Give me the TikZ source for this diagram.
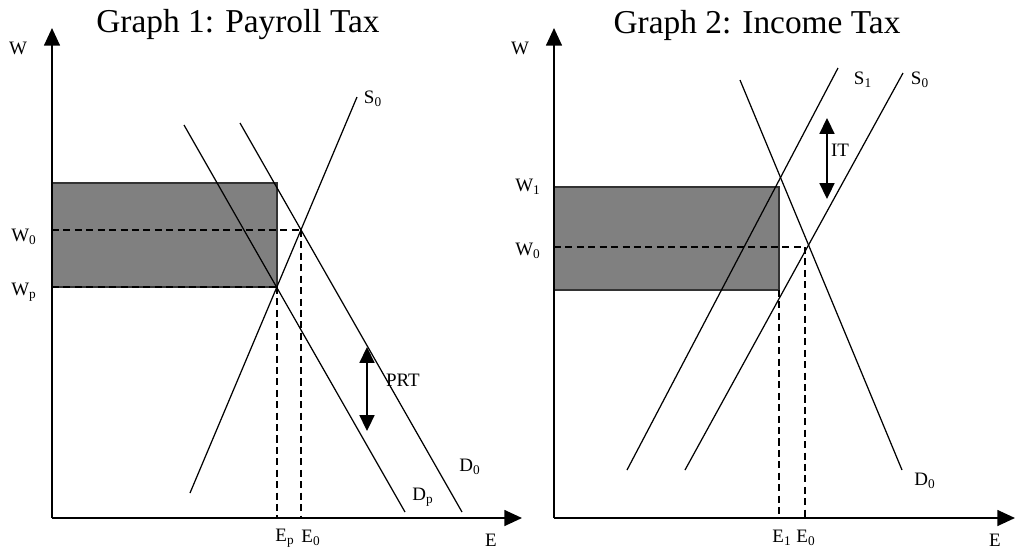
\documentclass[tikz,border=0pt]{standalone}
\usepackage{fontspec}
\setmainfont{Liberation Serif}
\usetikzlibrary{arrows.meta}
\definecolor{wedgeGray}{RGB}{128,128,128}

\begin{document}
\begin{tikzpicture}[
    x=0.02cm, y=-0.02cm,
    axis/.style={line width=1pt, -{Triangle[width=9pt,length=10pt]}},
    curve/.style={line width=0.7pt},
    guide/.style={line width=0.7pt, dash pattern=on 4pt off 2.5pt},
    taxarrow/.style={line width=1pt, {Triangle[width=8.5pt,length=9pt]}-{Triangle[width=8.5pt,length=9pt]}},
    wedge/.style={fill=wedgeGray, draw=black!80, line width=0.6pt},
    lbl/.style={font=\fontsize{10.8}{13}\selectfont, inner sep=0pt},
    title/.style={font=\fontsize{19}{22}\selectfont, inner sep=0pt}
]
    \useasboundingbox (0,0) rectangle (1015,549);

    % Graph 1: payroll tax
    \coordinate (o1) at (52,518);
    \coordinate (ytop1) at (52,28);
    \coordinate (xend1) at (522,518);
    \coordinate (eqp1) at (277,287);
    \coordinate (eq01) at (301,230);
    \coordinate (s0lo1) at (190,493);
    \coordinate (s0hi1) at (357,97);
    \coordinate (dphi1) at (184,125);
    \coordinate (dplo1) at (405,512);
    \coordinate (d0hi1) at (240,123);
    \coordinate (d0lo1) at (462,512);
    \coordinate (prttop) at (367,347);
    \coordinate (prtbot) at (367,431);

    \draw[wedge] (52,183) rectangle (eqp1);
    \draw[guide] (52,230) -- (eq01);
    \draw[guide] (52,287) -- (eqp1);
    \draw[guide] (eqp1) -- (eqp1 |- o1);
    \draw[guide] (eq01) -- (eq01 |- o1);

    \draw[curve] (s0lo1) -- (s0hi1);
    \draw[curve] (dphi1) -- (dplo1);
    \draw[curve] (d0hi1) -- (d0lo1);
    \draw[taxarrow] (prtbot) -- (prttop);

    \draw[axis] (o1) -- (ytop1);
    \draw[axis] (o1) -- (xend1);

    \node[title] (t1) at (238,25) {Graph 1: Payroll Tax};
    \node[lbl] (w1) at (18,48) {W};
    \node[lbl] (e1) at (491,540) {E};
    \node[lbl] (w01) at (24,237) {W\textsubscript{0}};
    \node[lbl] (wp1) at (24,292) {W\textsubscript{p}};
    \node[lbl] (ep1) at (285,538) {E\textsubscript{p}};
    \node[lbl] (e01) at (311,538) {E\textsubscript{0}};
    \node[lbl] (s01) at (373,99) {S\textsubscript{0}};
    \node[lbl] (d01) at (470,467) {D\textsubscript{0}};
    \node[lbl] (dp1) at (423,497) {D\textsubscript{p}};
    \node[lbl] (prt) at (403,380) {PRT};

    % Graph 2: income tax
    \coordinate (o2) at (554,518);
    \coordinate (ytop2) at (554,28);
    \coordinate (xend2) at (1015,518);
    \coordinate (eq12) at (779,187);
    \coordinate (eq02) at (805,247);
    \coordinate (s1lo2) at (627,470);
    \coordinate (s1hi2) at (838,68);
    \coordinate (s0lo2) at (685,470);
    \coordinate (s0hi2) at (903,73);
    \coordinate (d0hi2) at (740,80);
    \coordinate (d0lo2) at (902,470);
    \coordinate (ittop) at (827,118);
    \coordinate (itbot) at (827,199);

    \draw[wedge] (554,187) rectangle (779,290);
    \draw[guide] (554,247) -- (eq02);
    \draw[guide] (779,290) -- (779,518);
    \draw[guide] (eq02) -- (eq02 |- o2);

    \draw[curve] (s1lo2) -- (s1hi2);
    \draw[curve] (s0lo2) -- (s0hi2);
    \draw[curve] (d0hi2) -- (d0lo2);
    \draw[taxarrow] (itbot) -- (ittop);

    \draw[axis] (o2) -- (ytop2);
    \draw[axis] (o2) -- (xend2);

    \node[title] (t2) at (757,25) {Graph 2: Income Tax};
    \node[lbl] (w2) at (520,48) {W};
    \node[lbl] (e2) at (995,540) {E};
    \node[lbl] (w12) at (528,187) {W\textsubscript{1}};
    \node[lbl] (w02) at (528,251) {W\textsubscript{0}};
    \node[lbl] (e12) at (782,538) {E\textsubscript{1}};
    \node[lbl] (e02) at (806,538) {E\textsubscript{0}};
    \node[lbl] (s12) at (863,80) {S\textsubscript{1}};
    \node[lbl] (s02) at (920,80) {S\textsubscript{0}};
    \node[lbl] (d02) at (925,481) {D\textsubscript{0}};
    \node[lbl] (it) at (840,150) {IT};
\end{tikzpicture}
\end{document}
